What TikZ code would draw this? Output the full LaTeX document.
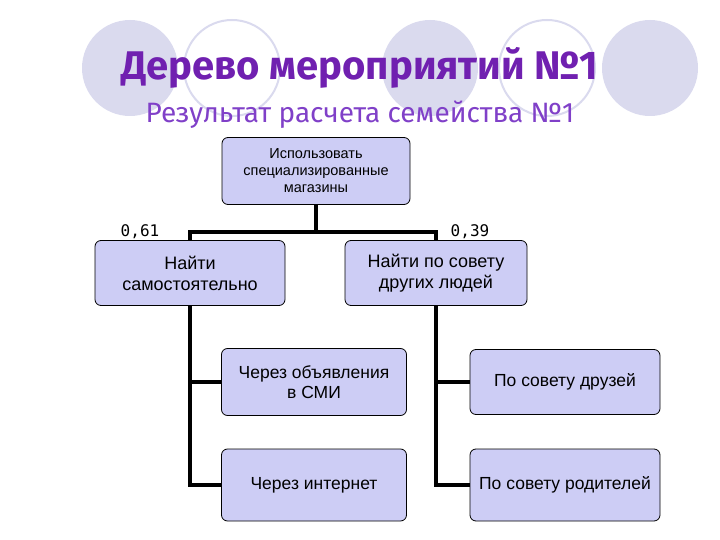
\documentclass[tikz,border=0pt]{standalone}
\usepackage{fontspec}
\setmainfont{Liberation Sans}
\newfontfamily\titlefont{Fira Sans}
\newfontfamily\numfont{DejaVu Sans Mono}
\begin{document}
\begin{tikzpicture}[x=1pt,y=-1pt,
  deco/.style={circle,minimum size=96pt,inner sep=0pt},
  decofill/.style={deco,fill=lav!85!gray!60},
  decoline/.style={deco,draw=lav!85!gray!60,line width=2pt},
  box/.style={draw=black,fill=lav,rounded corners=6pt,line width=0.8pt,align=center,inner sep=2pt},
  conn/.style={line width=3.5pt,black}]
\definecolor{lav}{RGB}{205,205,245}
\definecolor{ttl}{RGB}{112,32,176}
\definecolor{sub}{RGB}{128,64,200}
\useasboundingbox (0,0) rectangle (720,540);
\node[decofill] (c1) at (130,68) {};
\node[decoline] (c2) at (232,68) {};
\node[decofill] (c3) at (430,68) {};
\node[decoline] (c4) at (547,68) {};
\node[decofill] (c5) at (650,68) {};
\node[text=ttl,font=\titlefont\bfseries\fontsize{40}{44}\selectfont] (t) at (360,68) {Дерево мероприятий №1};
\node[text=sub,font=\titlefont\fontsize{28}{32}\selectfont] (s) at (360,115) {Результат расчета семейства №1};
\node[box,minimum width=188pt,minimum height=67pt,font=\fontsize{14.5}{17}\selectfont,inner sep=0pt] (r) at (316,171) {Использовать\\специализированные\\магазины};
\node[box,minimum width=190pt,minimum height=65pt,font=\fontsize{18}{21}\selectfont] (a) at (190,273) {Найти\\самостоятельно};
\node[box,minimum width=182pt,minimum height=65pt,font=\fontsize{18}{21}\selectfont] (b) at (436,273) {Найти по совету\\других людей};
\node[box,minimum width=185pt,minimum height=67pt,font=\fontsize{17.5}{20}\selectfont] (a1) at (314,382) {Через объявления\\в СМИ};
\node[box,minimum width=185pt,minimum height=72pt,font=\fontsize{17.5}{20}\selectfont] (a2) at (314,485) {Через интернет};
\node[box,minimum width=190pt,minimum height=65pt,font=\fontsize{17.5}{20}\selectfont] (b1) at (565,382) {По совету друзей};
\node[box,minimum width=190pt,minimum height=72pt,font=\fontsize{17.5}{20}\selectfont] (b2) at (565,485) {По совету родителей};
\node[font=\numfont\fontsize{16}{18}\selectfont] (p1) at (140,232) {0,61};
\node[font=\numfont\fontsize{16}{18}\selectfont] (p2) at (470,232) {0,39};
\coordinate (j) at (r.south |- 0,232);
\draw[conn] (r.south) -- (j);
\draw[conn] (a.north) -- (a.north |- j) -- (b.north |- j) -- (b.north);
\draw[conn] (a.south) -- (a.south |- a2.west) -- (a2.west);
\draw[conn] (a.south |- a1.west) -- (a1.west);
\draw[conn] (b.south) -- (b.south |- b2.west) -- (b2.west);
\draw[conn] (b.south |- b1.west) -- (b1.west);
\end{tikzpicture}
\end{document}
